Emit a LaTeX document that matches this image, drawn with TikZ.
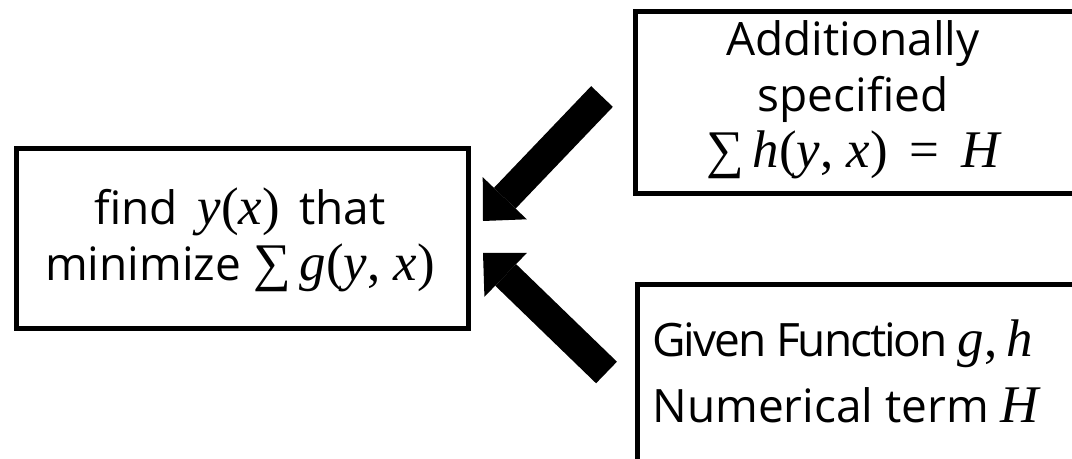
\documentclass[tikz,border=0pt]{standalone}
\usepackage{fontspec}
\setmainfont{Open Sans}
\newfontfamily\mathser{Liberation Serif}[Scale=1.15]
\newcommand\mv[1]{{\mathser\itshape #1}}
\newcommand\mup[1]{{\mathser #1}}
\usetikzlibrary{arrows.meta}
\begin{document}
\begin{tikzpicture}[x=0.5pt,y=-0.5pt,
  box/.style={draw, line width=2.5pt, inner sep=0pt, anchor=north west},
  lbl/.style={font=\fontsize{23pt}{28pt}\selectfont, inner sep=0pt, align=center},
  bigarrow/.style={line width=15pt, -{Triangle[length=15.75pt,width=30.5pt,line width=0pt]}}]
\useasboundingbox (0,0) rectangle (1072,459);
\clip (0,0) rectangle (1072,459);
% boxes
\node[box, minimum width=226pt, minimum height=89.75pt] (goal) at (14,146.5) {};
\node[box, minimum width=233.5pt, minimum height=90.75pt] (extra) at (633,9.5) {};
\node[box, minimum width=233pt, minimum height=100pt] (given) at (634.5,282) {};
% texts
\node[lbl] (goaltxt) at (240,240) {find \,\mv{y}\mup{(}\mv{x}\mup{)}\, that\\minimize \mup{∑\,}\mv{g}\mup{(}\mv{y}\mup{, }\mv{x}\mup{)}};
\node[lbl] (extratxt) at (853,100) {Additionally\\specified\\\mup{∑\,}\mv{h}\mup{(}\mv{y}\mup{, }\mv{x}\mup{)\,\ =\ \,}\mv{H}};
\node[lbl, align=left, anchor=west, font=\fontsize{23pt}{33pt}\selectfont] (giventxt) at (652,371) {{\addfontfeature{LetterSpace=-4.5}Given Function }\mv{g}\mup{,\,}\mv{h}\\Numerical term \mv{H}};
% arrows
\coordinate (a1s) at (602,96.5);
\coordinate (a1e) at (483,221);
\coordinate (a2s) at (606.5,372.5);
\coordinate (a2e) at (483,253);
\draw[bigarrow] (a1s) -- (a1e);
\draw[bigarrow] (a2s) -- (a2e);
\end{tikzpicture}
\end{document}
